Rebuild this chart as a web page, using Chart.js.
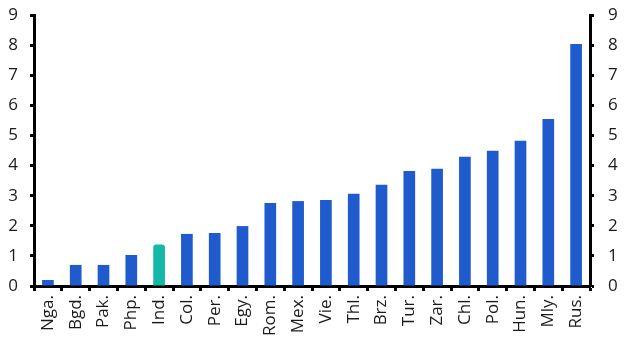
<!DOCTYPE html>
<html><head><meta charset="utf-8">
<script src="https://cdn.jsdelivr.net/npm/chart.js@4"></script>
<style>html,body{margin:0;padding:0;background:#fff}#w{width:632px;height:358px}</style>
</head><body><div id="w"><canvas id="c"></canvas></div>
<script>
const categories = ["Nga.","Bgd.","Pak.","Php.","Ind.","Col.","Per.","Egy.","Rom.","Mex.","Vie.","Thl.","Brz.","Tur.","Zar.","Chl.","Pol.","Hun.","Mly.","Rus."];
const values = [0.2,0.7,0.7,1.03,1.38,1.73,1.76,1.99,2.76,2.82,2.86,3.06,3.36,3.82,3.89,4.29,4.49,4.82,5.55,8.04];
const highlight = "Ind.";
const yTicks = [0,1,2,3,4,5,6,7,8,9];

const BLUE = "#1f5bcc", TEAL = "#12b8a8";
function yAxis(pos, width, pad) {
  return {
    position: pos, min: 0, max: 9,
    afterBuildTicks: ax => { ax.ticks = yTicks.map(v => ({value: v})); },
    grid: {drawOnChartArea: false, drawTicks: true, tickLength: 4, tickWidth: 3, tickColor: "#000"},
    border: {display: true, color: "#000", width: 3},
    ticks: {color: "#1a1a1a", font: {family: "Open Sans", size: 17}, padding: pad},
    afterFit: s => { s.width = width; s.paddingTop = 0; s.paddingBottom = 0; }
  };
}
new Chart(document.getElementById("c"), {
  type: "bar",
  data: {labels: categories, datasets: [{
    data: values,
    backgroundColor: categories.map(c => c === highlight ? TEAL : BLUE),
    borderRadius: ctx => categories[ctx.dataIndex] === highlight ? {topLeft: 3, topRight: 3} : 0,
    borderSkipped: false,
    barPercentage: 0.42, categoryPercentage: 1.0, yAxisID: "y"
  }]},
  options: {
    responsive: true, maintainAspectRatio: false, animation: false,
    layout: {padding: {top: 15, bottom: 0, left: 0, right: 0}},
    plugins: {legend: {display: false}, tooltip: {enabled: false}},
    scales: {
      x: {
        grid: {drawOnChartArea: false, drawTicks: true, tickLength: 5, tickWidth: 3, tickColor: "#000", offset: true},
        border: {display: true, color: "#000", width: 3},
        ticks: {color: "#1a1a1a", font: {family: "Open Sans", size: 17}, maxRotation: 90, minRotation: 90, padding: 4, autoSkip: false},
        afterFit: s => { s.height = 72; s.paddingLeft = 0; s.paddingRight = 0; }
      },
      y: yAxis("left", 34, 12),
      y2: yAxis("right", 42, 14)
    }
  }
});
</script></body></html>
